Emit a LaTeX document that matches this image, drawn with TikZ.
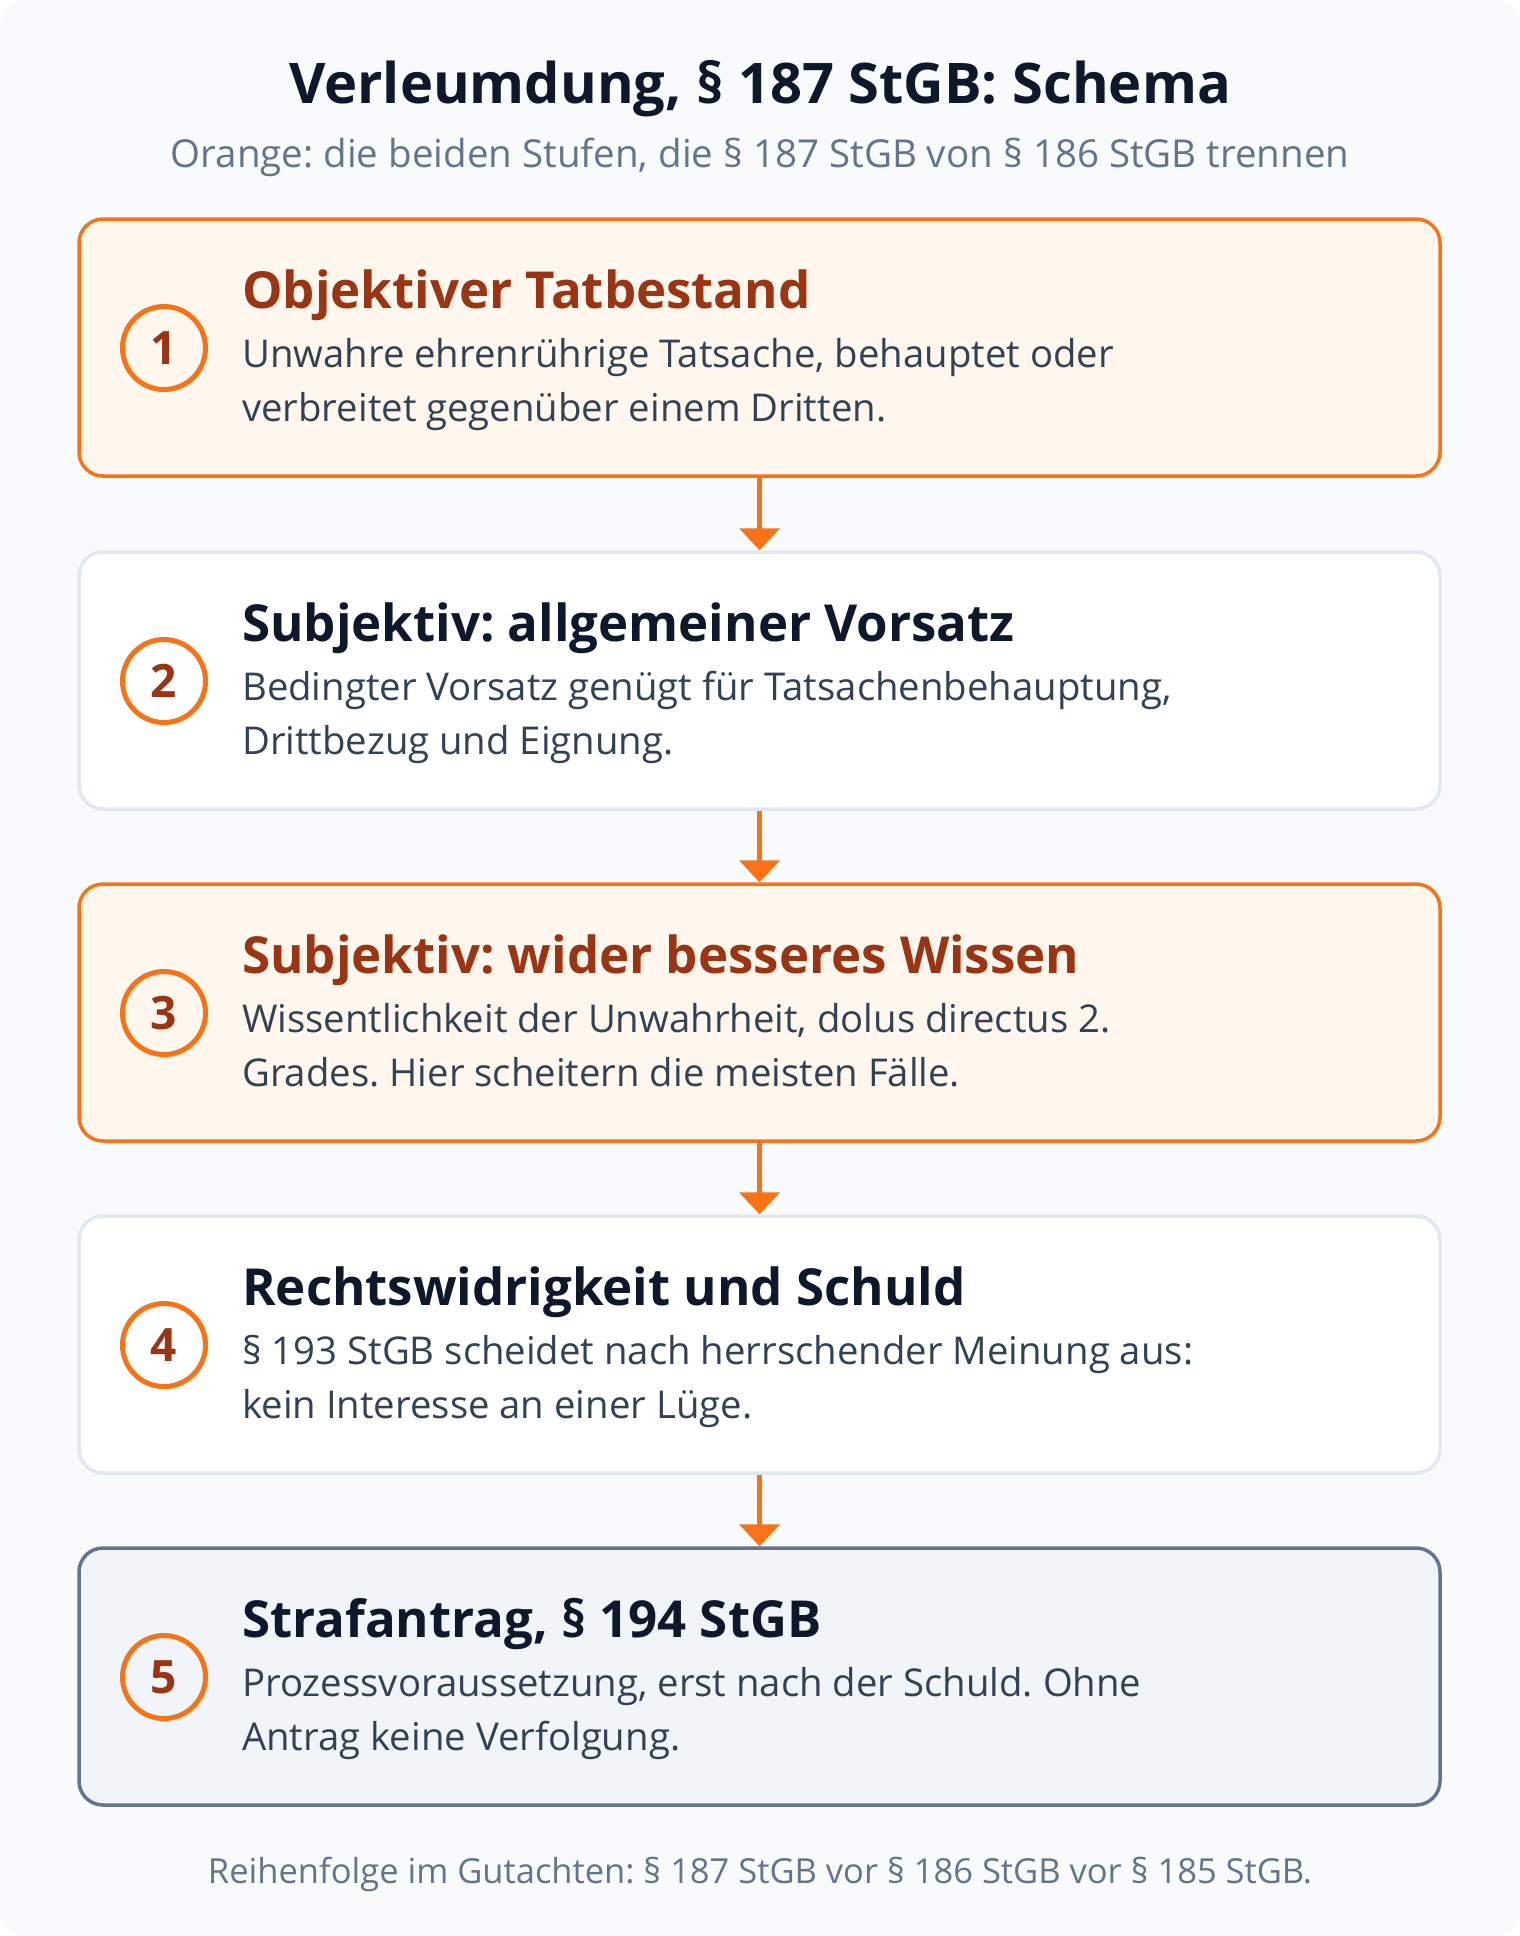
\documentclass[tikz,border=0pt]{standalone}
\usepackage{fontspec}
\setmainfont{Open Sans}
\frenchspacing
\usetikzlibrary{arrows.meta,positioning}
\definecolor{schemabg}{HTML}{F8FAFC}
\definecolor{schemaorange}{HTML}{F97316}
\definecolor{schemacream}{HTML}{FFF7ED}
\definecolor{schemarust}{HTML}{9A3412}
\definecolor{schemaink}{HTML}{0F172A}
\definecolor{schemabody}{HTML}{334155}
\definecolor{schemaline}{HTML}{E2E8F0}
\definecolor{schemaslate}{HTML}{64748B}
\definecolor{schemamist}{HTML}{F1F5F9}

\begin{document}
\begin{tikzpicture}[x=1pt, y=-1pt,
    box/.style={rectangle, draw, line width=3.5pt, rounded corners=24pt, minimum width=1361pt, minimum height=257pt, inner sep=0pt},
    keybox/.style={box, draw=schemaorange, fill=schemacream},
    plainbox/.style={box, draw=schemaline, fill=white},
    greybox/.style={box, draw=schemaslate, fill=schemamist},
    num/.style={circle, draw=schemaorange, line width=5pt, minimum size=83pt, inner sep=0pt, text=schemarust, font=\fontsize{46}{46}\selectfont\bfseries},
    head/.style={anchor=base west, inner sep=0pt, text=schemaink, font=\fontsize{51}{51}\selectfont\bfseries},
    keyhead/.style={head, text=schemarust},
    body/.style={anchor=base west, inner sep=0pt, text=schemabody, font=\fontsize{38.3}{38.3}\selectfont},
    note/.style={anchor=base, inner sep=0pt, text=schemaslate},
    arrow/.style={line width=5pt, draw=schemaorange, -{Triangle[width=40pt,length=22pt]}}]

    \useasboundingbox (0,0) rectangle (1520,1936);
    \fill[schemabg, rounded corners=24pt] (0,0) rectangle (1520,1936);

    % title
    \node[note, text=schemaink, font=\fontsize{56}{56}\selectfont\bfseries] (title) at (760,103) {Verleumdung, § 187 StGB: Schema};
    \node[note, font=\fontsize{38.5}{38.5}\selectfont] (subtitle) at (760,167) {Orange: die beiden Stufen, die § 187 StGB von § 186 StGB trennen};

    % steps
    \node[keybox] (tb) at (759.5,347.5) {};
    \node[num] (n1) at (164,348) {1};
    \node[keyhead] (h1) at (242,308) {Objektiver Tatbestand};
    \node[body] (b1a) at (242,367) {Unwahre ehrenrührige Tatsache, behauptet oder};
    \node[body] (b1b) at (242,421) {verbreitet gegenüber einem Dritten.};

    \node[plainbox] (vorsatz) at (759.5,680.5) {};
    \node[num] (n2) at (164,681) {2};
    \node[head] (h2) at (242,641) {Subjektiv: allgemeiner Vorsatz};
    \node[body] (b2a) at (242,700) {Bedingter Vorsatz genügt für Tatsachenbehauptung,};
    \node[body] (b2b) at (242,754) {Drittbezug und Eignung.};

    \node[keybox] (wissen) at (759.5,1012.5) {};
    \node[num] (n3) at (164,1013) {3};
    \node[keyhead] (h3) at (242,973) {Subjektiv: wider besseres Wissen};
    \node[body] (b3a) at (242,1032) {Wissentlichkeit der Unwahrheit, dolus directus 2.};
    \node[body] (b3b) at (242,1086) {Grades. Hier scheitern die meisten Fälle.};

    \node[plainbox] (schuld) at (759.5,1344.5) {};
    \node[num] (n4) at (164,1345) {4};
    \node[head] (h4) at (242,1305) {Rechtswidrigkeit und Schuld};
    \node[body] (b4a) at (242,1364) {§ 193 StGB scheidet nach herrschender Meinung aus:};
    \node[body] (b4b) at (242,1418) {kein Interesse an einer Lüge.};

    \node[greybox] (antrag) at (759.5,1676.5) {};
    \node[num] (n5) at (164,1677) {5};
    \node[head] (h5) at (242,1637) {Strafantrag, § 194 StGB};
    \node[body] (b5a) at (242,1696) {Prozessvoraussetzung, erst nach der Schuld. Ohne};
    \node[body] (b5b) at (242,1750) {Antrag keine Verfolgung.};

    \draw[arrow] (tb) -- (vorsatz);
    \draw[arrow] (vorsatz) -- (wissen);
    \draw[arrow] (wissen) -- (schuld);
    \draw[arrow] (schuld) -- (antrag);

    % footer
    \node[note, font=\fontsize{34.5}{34.5}\selectfont] (footer) at (760,1883) {Reihenfolge im Gutachten: § 187 StGB vor § 186 StGB vor § 185 StGB.};
\end{tikzpicture}
\end{document}
